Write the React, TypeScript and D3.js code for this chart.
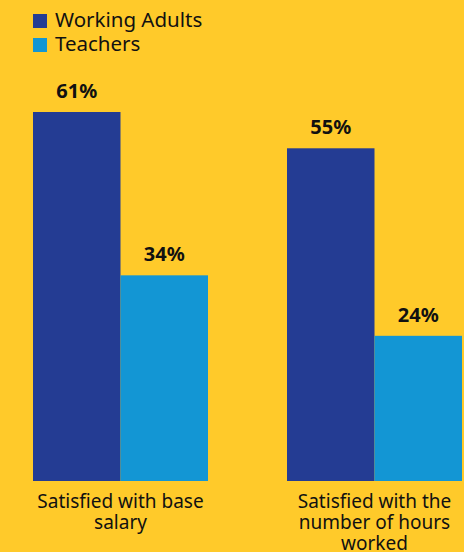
import React from "react";
import * as d3 from "d3";

const categories = ["Satisfied with base salary", "Satisfied with the number of hours worked"];
const categoryLines = [["Satisfied with base", "salary"], ["Satisfied with the", "number of hours", "worked"]];
const seriesNames = ["Working Adults", "Teachers"];
const workingAdults = [61, 55];
const teachers = [34, 24];
const colors = ["#243C93", "#1396D4"];

const W = 464, H = 552;

export default function App() {
  const groupX = d3.scalePoint().domain(categories).range([33, 287]);
  const x1 = d3.scaleBand().domain(seriesNames).range([0, 175]);
  const y = d3.scaleLinear().domain([0, 61]).range([481, 112]);
  const series = [workingAdults, teachers];
  const font = "'Noto Sans', 'Open Sans', sans-serif";
  return (
    <svg width={W} height={H} style={{ position: "absolute", left: 0, top: 0, background: "#FFCA2A" }} fontFamily={font}>
      <rect width={W} height={H} fill="#FFCA2A" />
      {seriesNames.map((s, i) => (
        <g key={s} transform={`translate(33, ${14 + i * 24})`}>
          <rect width={14} height={14} fill={colors[i]} />
          <text x={22} y={13} fontSize={20.5} fill="#111">{s}</text>
        </g>
      ))}
      {categories.map((c, ci) => (
        <g key={c} transform={`translate(${groupX(c)},0)`}>
          {seriesNames.map((s, si) => {
            const v = series[si][ci];
            const bx = x1(s)!;
            const bw = x1.bandwidth();
            return (
              <g key={s}>
                <rect x={bx} y={y(v)} width={bw} height={y(0) - y(v)} fill={colors[si]} />
                <text x={bx + bw / 2} y={y(v) - 14} textAnchor="middle" fontSize={20} fontWeight="bold" fill="#111">{v}%</text>
              </g>
            );
          })}
          {categoryLines[ci].map((ln, li) => (
            <text key={li} x={87.5} y={508 + li * 21} textAnchor="middle" fontSize={19} fill="#111">{ln}</text>
          ))}
        </g>
      ))}
    </svg>
  );
}
